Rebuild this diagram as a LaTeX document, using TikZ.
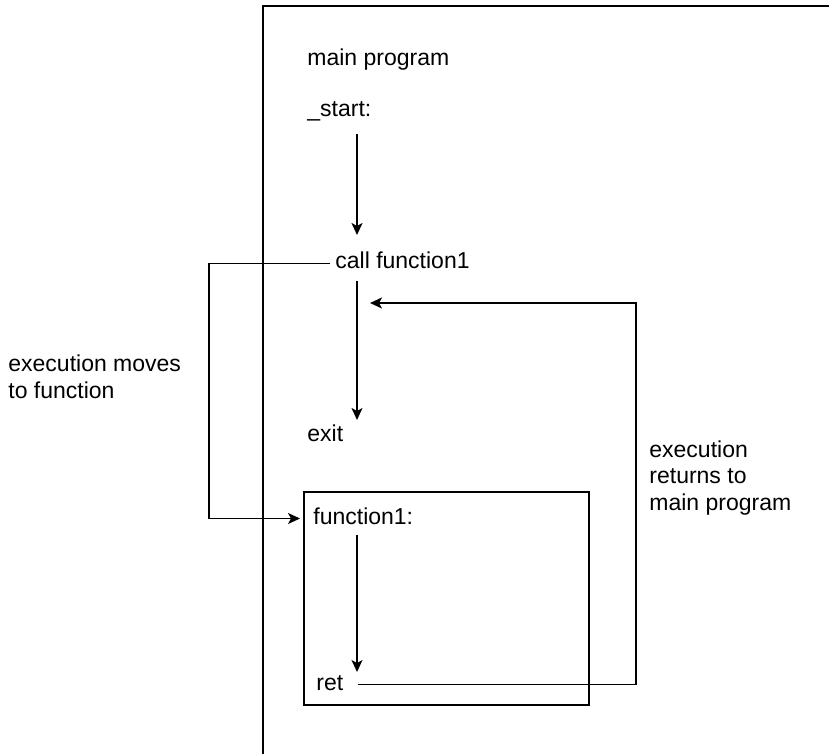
\documentclass[tikz,border=0pt]{standalone}
\usepackage{fontspec}
\setmainfont{Liberation Sans}
\usetikzlibrary{arrows.meta}

\begin{document}
\begin{tikzpicture}[
  x=0.5pt, y=-0.5pt,
  txt/.style={inner sep=0pt, text height=0.8em, text depth=0.25em,
              anchor=base west, font=\fontsize{11.5}{13.25}\selectfont},
  note/.style={inner sep=0pt, anchor=base west, align=left,
               font=\fontsize{11.5}{13.25}\selectfont},
  arr/.style={-{Stealth[length=6pt, width=5.5pt, inset=1.5pt]}, line width=0.7pt},
  frame/.style={line width=0.8pt}
]
  \useasboundingbox (0,0) rectangle (829,754);

  % main program frame (open to the right and bottom) and function box
  \draw[frame] (829,6) -- (263,6) -- (263,754);
  \draw[frame] (304,492) rectangle (589,705);

  % labels
  \node[txt] (title) at (307,66)  {main program};
  \node[txt] (start) at (307,117) {\_start:};
  \node[txt] (call)  at (335,269) {call function1};
  \node[txt] (exit)  at (307,441) {exit};
  \node[txt] (func)  at (313,524) {function1:};
  \node[txt] (ret)   at (316,690) {ret};
  % base anchor of the notes sits on their last line
  \node[note] (moves)   at (8,398)   {execution moves\\to function};
  \node[note] (returns) at (649,510) {execution\\returns to\\main program};

  % helper coordinates
  \coordinate (col)    at (357,0);
  \coordinate (bendL)  at (209,0);
  \coordinate (bendR)  at (636,303);
  \coordinate (back)   at (370,303);
  \coordinate (funcIn) at ([xshift=-6.5pt]func.west);

  % flow
  \draw[arr] ([yshift=-5.6pt]start.south -| col) -- ([yshift=8.8pt]call.north -| col);
  \draw[arr] ([yshift=-3.1pt]call.south -| col) -- ([yshift=2.3pt]exit.north -| col);
  \draw[arr] ([xshift=-2.5pt]call.west) -| (bendL |- funcIn) -- (funcIn);
  \draw[arr] ([yshift=-2.6pt]func.south -| col) -- ([yshift=0.8pt]ret.north -| col);
  \draw[arr] ([xshift=7pt]ret.east) -| (bendR) -- (back);
\end{tikzpicture}
\end{document}
